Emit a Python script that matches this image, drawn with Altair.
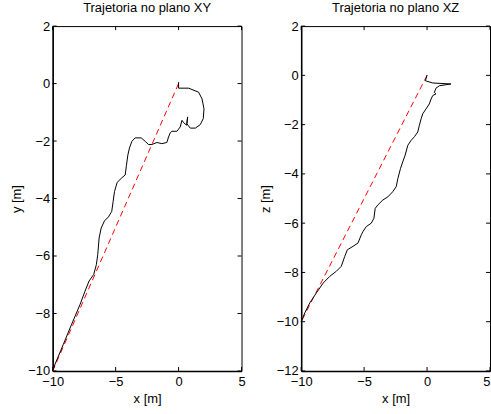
import altair as alt
import pandas as pd

# ---- data ----
xy_x = [0, 0, 0.80, 1.59, 1.86, 2.02, 1.96, 1.72, 1.33, 0.93, 0.66, 0.72, 0.64, 0.40, 0.27, 0.13,
        -0.13, -0.53, -0.66, -0.80, -0.93, -1.33, -1.72, -2.12, -2.39, -2.65, -2.97, -3.45, -3.71,
        -3.90, -4.03, -4.14, -4.24, -4.51, -4.88, -5.09, -5.20, -5.31, -5.57, -5.89, -6.15, -6.31,
        -6.42, -6.53, -6.74, -7.11, -7.43, -7.82, -8.49, -9.15, -9.81, -10.0]
xy_y = [0.05, -0.16, -0.16, -0.30, -0.53, -0.88, -1.22, -1.43, -1.55, -1.55, -1.40, -1.16, -1.45,
        -1.36, -1.28, -1.51, -1.66, -1.66, -1.71, -1.86, -2.05, -2.09, -2.05, -2.12, -2.12, -2.01,
        -1.89, -1.89, -2.01, -2.24, -2.49, -2.84, -3.18, -3.28, -3.44, -3.76, -4.11, -4.45, -4.64,
        -4.78, -5.03, -5.37, -5.95, -6.30, -6.64, -6.87, -7.22, -7.68, -8.37, -9.07, -9.76, -10.0]

xz_x = [0, -0.13, 0.45, 1.90, 0.98, 0.71, 0.58, 0.71, 0.45, 0.32, 0.18, -0.08, -0.34, -0.47, -0.61,
        -0.74, -1.00, -1.27, -1.53, -1.74, -1.93, -2.11, -2.32, -2.45, -2.72, -3.11, -3.51, -3.91,
        -4.12, -4.22, -4.43, -4.83, -5.09, -5.22, -5.49, -5.88, -6.33, -6.54, -6.81, -7.20, -7.73,
        -8.25, -8.79, -9.31, -9.71, -10.0]
xz_z = [0.01, -0.22, -0.31, -0.35, -0.42, -0.52, -0.69, -0.75, -0.82, -0.96, -1.16, -1.36, -1.56,
        -1.76, -2.03, -2.30, -2.49, -2.64, -2.84, -3.24, -3.51, -3.78, -4.19, -4.52, -4.72, -4.93,
        -5.06, -5.26, -5.40, -5.80, -6.00, -6.14, -6.34, -6.47, -6.81, -6.94, -7.08, -7.35, -7.75,
        -7.95, -8.16, -8.43, -8.83, -9.23, -9.64, -10.0]

ref_x = [0, -10]
ref_v = [0, -10]

x_ticks = [-10, -5, 0, 5]
y_ticks = [-10, -8, -6, -4, -2, 0, 2]
z_ticks = [-12, -10, -8, -6, -4, -2, 0, 2]

W, H = 190, 347
FONT = "Liberation Sans"
FS = 13
TL = 4  # inward tick length


def panel(px, py, vticks, vdomain, title, ytitle, last_right):
    traj = pd.DataFrame({"x": px, "v": py, "i": range(len(px))})
    ref = pd.DataFrame({"x": ref_x, "v": ref_v, "i": range(len(ref_x))})
    xt = pd.DataFrame({"t": x_ticks})
    vt = pd.DataFrame({"t": vticks})

    xscale = alt.Scale(domain=[-10, 5], nice=False, zero=False)
    vscale = alt.Scale(domain=vdomain, nice=False, zero=False)
    xkw = {}
    if last_right:
        xkw["labelAlign"] = {"expr": "datum.value == 5 ? 'right' : 'center'"}
    xaxis = alt.Axis(values=x_ticks, ticks=False, grid=False, labelPadding=5,
                     domainWidth=1.5, domainColor="black", labelFont=FONT, labelFontSize=FS,
                     labelColor="black", title="x [m]", titleFont=FONT, titleFontSize=FS,
                     titleFontWeight="normal", titleColor="black", titlePadding=4,
                     labelFlush=False, labelOverlap=False, **xkw)
    vaxis = alt.Axis(values=vticks, ticks=False, grid=False, labelPadding=3,
                     domainWidth=1.5, domainColor="black", labelFont=FONT, labelFontSize=FS,
                     labelColor="black", title=ytitle, titleFont=FONT, titleFontSize=FS,
                     titleFontWeight="normal", titleColor="black", titlePadding=4,
                     labelFlush=False, labelOverlap=False)

    line = alt.Chart(traj).mark_line(color="black", strokeWidth=1).encode(
        x=alt.X("x:Q", scale=xscale, axis=xaxis),
        y=alt.Y("v:Q", scale=vscale, axis=vaxis),
        order="i:Q",
    )
    dash = alt.Chart(ref).mark_line(color="#ff0000", strokeWidth=1, strokeDash=[6, 4]).encode(
        x=alt.X("x:Q", scale=xscale),
        y=alt.Y("v:Q", scale=vscale),
        order="i:Q",
    )
    tb = alt.Chart(xt).mark_rule(color="black", strokeWidth=1).encode(
        x=alt.X("t:Q", scale=xscale), y=alt.value(H), y2=alt.value(H - TL))
    tt = alt.Chart(xt).mark_rule(color="black", strokeWidth=1).encode(
        x=alt.X("t:Q", scale=xscale), y=alt.value(0), y2=alt.value(TL))
    tl = alt.Chart(vt).mark_rule(color="black", strokeWidth=1).encode(
        y=alt.Y("t:Q", scale=vscale), x=alt.value(0), x2=alt.value(TL))
    tr = alt.Chart(vt).mark_rule(color="black", strokeWidth=1).encode(
        y=alt.Y("t:Q", scale=vscale), x=alt.value(W - TL), x2=alt.value(W))

    return alt.layer(tb, tt, tl, tr, dash, line).properties(
        width=W, height=H,
        title=alt.TitleParams(title, font=FONT, fontSize=FS, fontWeight="normal",
                              color="black", offset=5, anchor="middle"),
    )


left = panel(xy_x, xy_y, y_ticks, [-10, 2], "Trajetoria no plano XY", "y [m]", False)
right = panel(xz_x, xz_z, z_ticks, [-12, 2], "Trajetoria no plano XZ", "z [m]", True)

chart = alt.hconcat(left, right, spacing=60, bounds="flush").properties(
    padding={"left": 10, "top": 0, "right": 0, "bottom": 0},
    background="white",
).configure_view(stroke="black", strokeWidth=1)

chart.save("out.html", embed_options={"renderer": "svg", "actions": False})
